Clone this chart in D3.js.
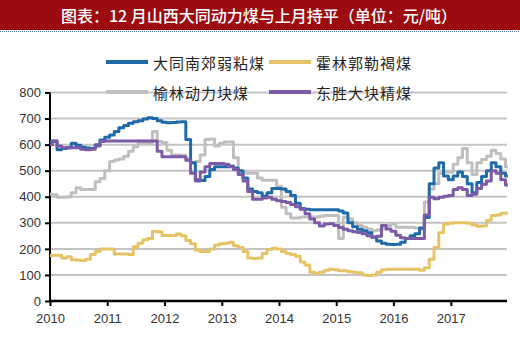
<!DOCTYPE html>
<html><head><meta charset="utf-8">
<script src="https://cdn.jsdelivr.net/npm/d3@7"></script>
<style>
html,body{margin:0;padding:0;background:#fff;}
svg{display:block;}
</style></head>
<body>
<svg id="c" width="520" height="342"></svg>
<script>
const titleText = "图表：12 月山西大同动力煤与上月持平（单位：元/吨）";
const seriesNames = ["大同南郊弱粘煤", "霍林郭勒褐煤", "榆林动力块煤", "东胜大块精煤"];
const yTicks = [0, 100, 200, 300, 400, 500, 600, 700, 800];
const xTickYears = [2010, 2011, 2012, 2013, 2014, 2015, 2016, 2017];
// monthly observations Jan 2010 .. Dec 2017, plus last reading at end of Dec 2017
const datong = [
  610,612,580,585,588,605,598,590,587,585,600,618,
  628,637,650,665,673,682,688,692,698,703,700,692,
  686,684,685,687,688,620,530,465,462,478,505,515,
  515,515,518,510,500,472,430,420,415,402,415,432,
  432,430,420,405,375,355,352,350,350,350,350,350,
  350,345,338,300,285,275,270,262,245,230,222,218,
  217,218,225,240,250,258,280,320,450,510,530,480,
  465,480,495,478,450,415,455,478,500,530,515,490,
  480];
const huolin = [
  175,176,176,165,170,158,157,155,160,178,190,200,
  200,200,180,180,180,178,208,222,235,240,268,266,
  251,251,251,257,250,232,220,195,190,190,200,215,
  220,222,225,212,206,190,165,163,165,182,198,202,
  200,190,182,178,172,150,138,110,106,110,118,122,
  120,116,116,112,110,108,100,98,100,110,120,122,
  122,122,122,122,122,122,118,128,160,205,262,295,
  298,300,300,300,298,292,287,288,310,328,330,337,
  338];
const yulin = [
  410,408,398,398,400,415,435,428,428,428,458,470,
  500,535,541,545,555,575,592,605,605,605,650,612,
  608,578,560,560,558,545,530,535,560,620,622,595,
  605,610,610,550,495,492,490,490,472,463,463,463,
  440,360,335,318,318,322,322,322,322,325,328,328,
  328,240,322,315,300,290,283,275,270,272,277,290,
  295,283,283,283,283,280,275,380,430,450,490,495,
  495,525,550,585,530,485,530,543,555,578,566,545,
  515];
const dongsheng = [
  600,615,595,588,588,588,588,582,580,582,595,612,
  614,614,614,614,614,614,614,614,614,614,614,575,
  553,553,553,553,553,540,490,460,495,515,528,528,
  528,525,515,505,485,460,420,390,390,395,398,390,
  385,382,378,370,362,352,335,315,300,288,295,296,
  290,282,275,270,266,263,258,250,246,248,290,276,
  268,252,243,240,240,240,240,330,398,392,398,402,
  405,428,435,428,405,410,432,448,460,500,490,465,
  445];
const colors = ["#1F6AA8", "#E5C468", "#BFBFBF", "#7B5AA6"];

const svg = d3.select("#c");
const W = 520, H = 342;

// title bar
svg.append("rect").attr("x",0).attr("y",0).attr("width",W).attr("height",30).attr("fill","#9C0B0F");
svg.append("line").attr("x1",0).attr("x2",W).attr("y1",31.5).attr("y2",31.5)
  .attr("stroke","#5470B0").attr("stroke-width",1).attr("stroke-dasharray","1,1");
svg.append("text").attr("x",259).attr("y",15).attr("text-anchor","middle").attr("dominant-baseline","central")
  .attr("fill","#fff").attr("font-family","'Noto Sans CJK SC', sans-serif").attr("font-size",16).attr("font-weight",500)
  .text(titleText);

const dates = d3.timeMonth.range(new Date(2010,0,1), new Date(2018,0,1));
dates.push(new Date(2017,11,31));

const x = d3.scaleTime().domain([new Date(2010,0,1), new Date(2018,0,1)]).range([50, 508]);
const y = d3.scaleLinear().domain([0, 800]).range([301, 92.5]);

// gridlines
svg.append("g").selectAll("line").data(yTicks.filter(d=>d>0)).join("line")
  .attr("x1",50).attr("x2",507).attr("y1",d=>y(d)).attr("y2",d=>y(d))
  .attr("stroke","#C4C4C4").attr("stroke-width",2);

// y axis
const yAxis = svg.append("g").attr("transform","translate(50,0)")
  .call(d3.axisLeft(y).tickValues(yTicks).tickSize(5).tickPadding(4));
yAxis.select(".domain").attr("stroke","#000").attr("stroke-width",2).attr("d","M0,"+y(800)+"V"+y(0));
yAxis.selectAll(".tick line").attr("stroke","#000").attr("stroke-width",2);
yAxis.selectAll(".tick text").attr("font-family","Arial, 'Liberation Sans', sans-serif").attr("font-size",13).attr("fill","#333");

// x axis
const xAxis = svg.append("g").attr("transform","translate(0,"+y(0)+")")
  .call(d3.axisBottom(x).tickValues(xTickYears.map(v=>new Date(v,0,1))).tickFormat(d3.timeFormat("%Y")).tickSize(5).tickPadding(8));
xAxis.select(".domain").attr("stroke","#000").attr("stroke-width",2.5).attr("d","M50,0H507");
xAxis.selectAll(".tick line").attr("stroke","#000").attr("stroke-width",2);
xAxis.selectAll(".tick text").attr("font-family","Arial, 'Liberation Sans', sans-serif").attr("font-size",13).attr("fill","#333");

// lines
const line = d3.line().x((d,i)=>x(dates[i])).y(d=>y(d)).curve(d3.curveStep);
const order = [[yulin,2],[huolin,1],[datong,0],[dongsheng,3]];
order.forEach(([vals,ci])=>{
  svg.append("path").datum(vals).attr("d",line).attr("fill","none")
    .attr("stroke",colors[ci]).attr("stroke-width",3).attr("stroke-linejoin","round");
});

// legend
const legPos = [[106,62],[269,62],[106,92],[269,92]];
seriesNames.forEach((n,i)=>{
  const [lx,ly] = legPos[i];
  svg.append("line").attr("x1",lx).attr("x2",lx+42).attr("y1",ly).attr("y2",ly)
    .attr("stroke",colors[i]).attr("stroke-width",4);
  svg.append("text").attr("x",lx+47).attr("y",ly).attr("dominant-baseline","central")
    .attr("font-family","'Noto Sans CJK SC', sans-serif").attr("font-size",15).attr("letter-spacing",1)
    .attr("fill","#262626").text(n);
});
</script>
</body></html>
